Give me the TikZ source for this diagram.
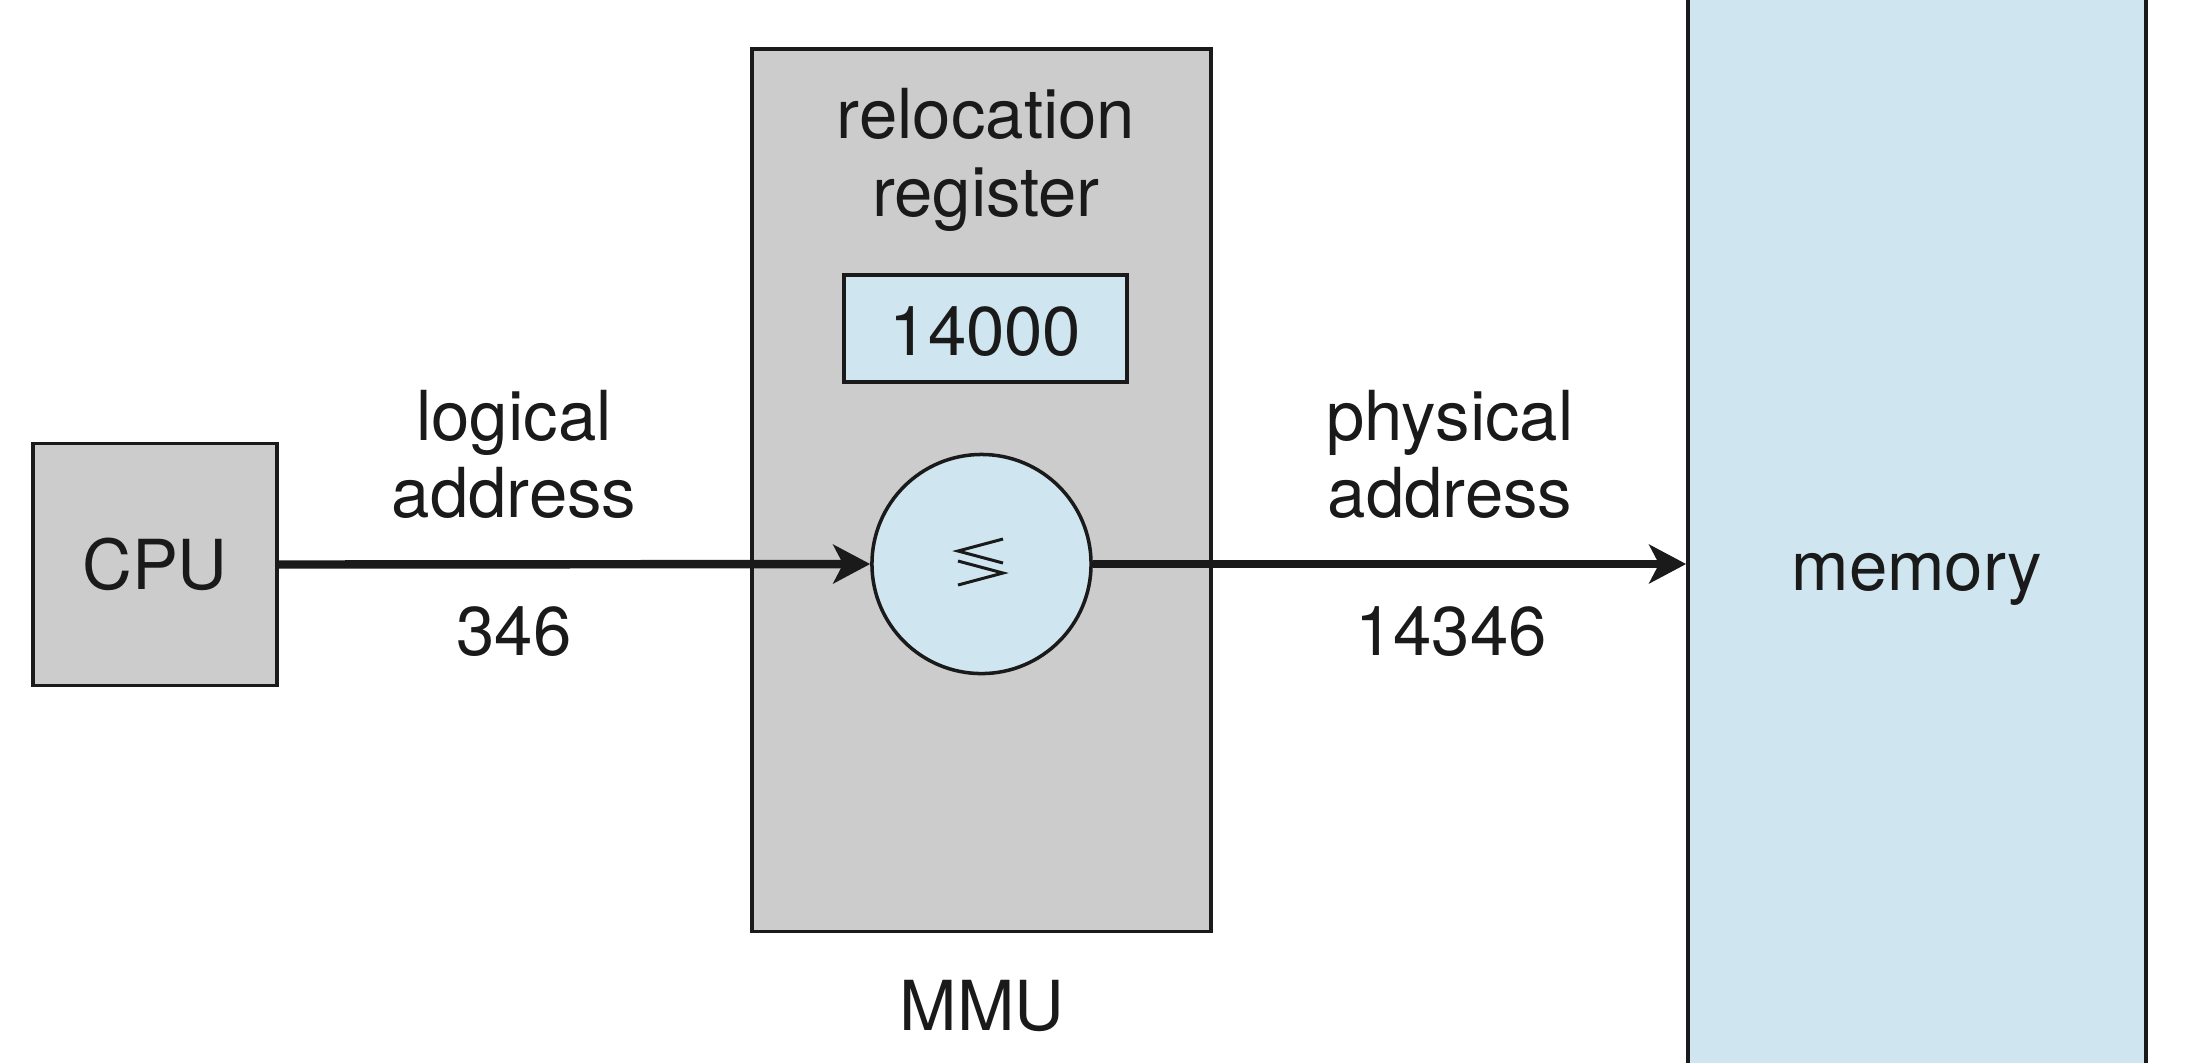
\documentclass[tikz,border=0pt]{standalone}
\usepackage{fontspec}
\setmainfont{TeX Gyre Heros}
\usetikzlibrary{arrows.meta}
\definecolor{boxgray}{HTML}{CCCCCC}
\definecolor{boxblue}{HTML}{CFE5EF}
\definecolor{ink}{HTML}{1A1A1A}
\tikzset{
  lbl/.style={inner sep=0pt, font=\fontsize{19.6}{21.9}\selectfont, text=ink, align=center},
  graybox/.style={draw=ink, fill=boxgray, line width=1pt, inner sep=0pt, rectangle},
  bluebox/.style={draw=ink, fill=boxblue, line width=1pt, inner sep=0pt, rectangle},
  flow/.style={draw=ink, line width=2.4pt, -{Stealth[length=10.5pt, width=11pt, inset=2.8pt]}},
  glyph/.style={draw=ink, line width=0.85pt}
}
\begin{document}
\begin{tikzpicture}[x=0.01cm, y=-0.01cm]
\clip (0,0) rectangle (2188,1062);
\fill[white] (0,0) rectangle (2188,1062);
% boxes
\node[graybox, minimum width=2.44cm, minimum height=2.42cm,
      font=\fontsize{19.6}{21.9}\selectfont, text=ink, text height=0.5cm, text depth=0pt]
      (cpu) at (155,564.5) {CPU};
\node[graybox, minimum width=4.59cm, minimum height=8.82cm] (mmu) at (981.5,490) {};
\node[bluebox, minimum width=4.58cm, minimum height=14cm,
      font=\fontsize{19.6}{21.9}\selectfont, text=ink, text height=0.52cm, text depth=0pt]
      (mem) at (1917,564) {memory};
\node[bluebox, minimum width=2.83cm, minimum height=1.07cm,
      font=\fontsize{19.6}{21.9}\selectfont, text=ink, text height=0.535cm, text depth=0pt]
      (reg) at (985.5,328.5) {14000};
\node[bluebox, circle, minimum size=2.19cm] (add) at (981.5,564) {};
% symbol inside the adder
\draw[glyph] (1003,539) -- (958,551) -- (1003,563);
\draw[glyph] (958,561) -- (1003,573) -- (958,585);
% labels
\node[lbl, anchor=base] (reloc) at (986,138) {relocation};
\node[lbl, anchor=base] (regtxt) at (986,216) {register};
\node[lbl, anchor=base] (log1) at (514,440) {logical};
\node[lbl, anchor=base] (log2) at (514,517) {address};
\node[lbl, anchor=base] (lognum) at (514,655) {346};
\node[lbl, anchor=base] (phy1) at (1450,440) {physical};
\node[lbl, anchor=base] (phy2) at (1450,517) {address};
\node[lbl, anchor=base] (phynum) at (1451,655) {14346};
\node[lbl, anchor=base] (mmulbl) at (982,1030) {MMU};
% connectors
\draw[flow] (cpu.east) -- (add.west);
\draw[flow] (add.east) -- (mem.west |- add.east);
\end{tikzpicture}
\end{document}
